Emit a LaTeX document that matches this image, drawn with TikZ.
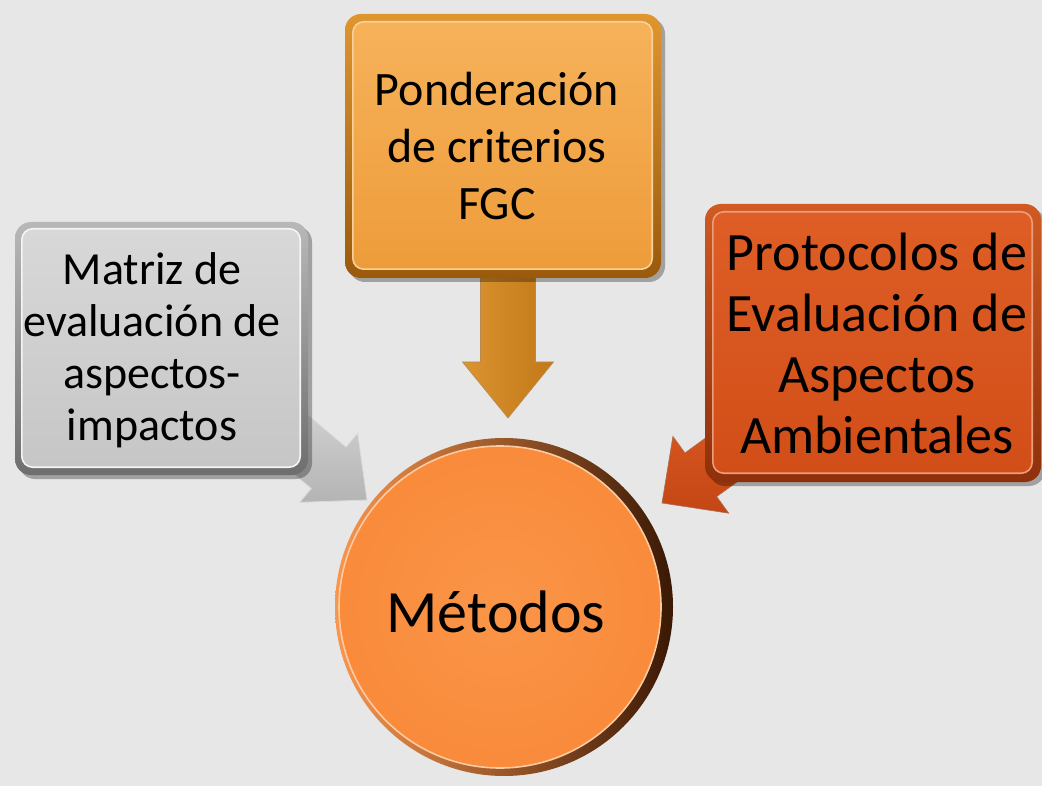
\documentclass[tikz,border=0pt]{standalone}
\usepackage{fontspec}
\setmainfont{Carlito}
\usetikzlibrary{shadows,calc}
\definecolor{bg}{HTML}{E7E7E7}
\definecolor{grayfillA}{HTML}{D8D8D8}
\definecolor{grayfillB}{HTML}{C6C6C6}
\definecolor{grayrimA}{HTML}{B8B8B8}
\definecolor{grayrimB}{HTML}{6E6E6E}
\definecolor{goldfillA}{HTML}{F6B25A}
\definecolor{goldfillB}{HTML}{EE9C3A}
\definecolor{goldrimA}{HTML}{E0962E}
\definecolor{goldrimB}{HTML}{9A5A0C}
\definecolor{redfillA}{HTML}{DE5E26}
\definecolor{redfillB}{HTML}{D24E18}
\definecolor{redrimA}{HTML}{D05A22}
\definecolor{redrimB}{HTML}{8E300A}
\definecolor{circfill}{HTML}{F98B3B}
\definecolor{circin}{HTML}{FA9548}
\definecolor{circdark}{HTML}{3A1804}
\definecolor{goldarrowA}{HTML}{DA9430}
\definecolor{goldarrowB}{HTML}{C27818}
\definecolor{grayarrowA}{HTML}{D6D6D6}
\definecolor{grayarrowB}{HTML}{B4B4B4}
\definecolor{redarrowA}{HTML}{DA5A22}
\definecolor{redarrowB}{HTML}{C44614}
\newcommand\blockarrow[7]{%
  \begin{scope}[shift={(#1)},rotate=#2]
    \path[#7] (0,0) -- (-#6,#5/2) -- (-#6,#4/2) -- (-#3,#4/2) -- (-#3,-#4/2)
      -- (-#6,-#4/2) -- (-#6,-#5/2) -- cycle;
  \end{scope}}
\begin{document}
\begin{tikzpicture}[x=1pt,y=-1pt,
  rimbox/.style={rectangle, rounded corners=16pt, inner sep=0pt,
    drop shadow={shadow xshift=4pt, shadow yshift=-4pt, opacity=0.3, fill=black}},
  innerbox/.style={rounded corners=11pt, line width=1.6pt},
  boxtext/.style={align=center, inner sep=0pt, text=black},
  arrowshape/.style={draw=white!60!black, line width=0.6pt, line join=miter}
]
\fill[bg] (0,0) rectangle (1042,786);
\useasboundingbox (0,0) rectangle (1042,786);

% ---- block arrows (drawn first, boxes cover their tails)
\coordinate (tipgold) at (508,418);
\coordinate (tipgray) at (367,500);
\coordinate (tipred) at (662,503);
\blockarrow{tipgold}{-90}{150}{55}{91}{56}{left color=goldarrowA, right color=goldarrowB, draw=goldrimB!70, line width=0.6pt}
\blockarrow{tipgray}{-40}{140}{54}{90}{50}{top color=grayarrowA, bottom color=grayarrowB, draw=white!85!black, line width=0.8pt}
\blockarrow{tipred}{-144}{130}{54}{95}{48}{top color=redarrowA, bottom color=redarrowB, draw=redrimB!70, line width=0.6pt}

% ---- left gray box
\node[rimbox, minimum width=293pt, minimum height=253pt,
  top color=grayrimA, bottom color=grayrimB] (matriz) at (161.5,348.5) {};
\draw[innerbox, draw=white!92!gray, top color=grayfillA, bottom color=grayfillB]
  ([shift={(7pt,-7pt)}]matriz.north west) rectangle ([shift={(-8pt,8pt)}]matriz.south east);
\node[boxtext, font=\fontsize{46}{52}\selectfont] (matriztxt) at (152,350)
  {Matriz de\\evaluación de\\aspectos-\\impactos};

% ---- top gold box
\node[rimbox, minimum width=316pt, minimum height=264pt,
  top color=goldrimA, bottom color=goldrimB] (ponder) at (503,146) {};
\draw[innerbox, draw=goldfillA!60!white, top color=goldfillA, bottom color=goldfillB]
  ([shift={(8pt,-8pt)}]ponder.north west) rectangle ([shift={(-9pt,9pt)}]ponder.south east);
\node[boxtext, font=\fontsize{48}{57}\selectfont] (pondertxt) at (497,146)
  {Ponderación\\de criterios\\FGC};

% ---- right red box
\node[rimbox, minimum width=336pt, minimum height=278pt,
  top color=redrimA, bottom color=redrimB] (protocolos) at (873,343) {};
\draw[innerbox, draw=redfillA!60!white, top color=redfillA, bottom color=redfillB]
  ([shift={(8pt,-8pt)}]protocolos.north west) rectangle ([shift={(-9pt,9pt)}]protocolos.south east);
\node[boxtext, font=\fontsize{54}{61}\selectfont] (protocolostxt) at (877,343)
  {Protocolos de\\Evaluación de\\Aspectos\\Ambientales};

% ---- central circle
\node[circle, minimum size=338pt, inner sep=0pt, left color=circfill!90!white,
  right color=circdark] (metodosrim) at (504,607) {};
\node[circle, minimum size=322pt, inner sep=0pt, draw=circin!50!white, line width=1.6pt,
  inner color=circin, outer color=circfill] (metodos) at (500,607) {};
\node[boxtext, font=\fontsize{60}{66}\selectfont, anchor=base] (metodostxt) at (496,632) {Métodos};
\end{tikzpicture}
\end{document}
